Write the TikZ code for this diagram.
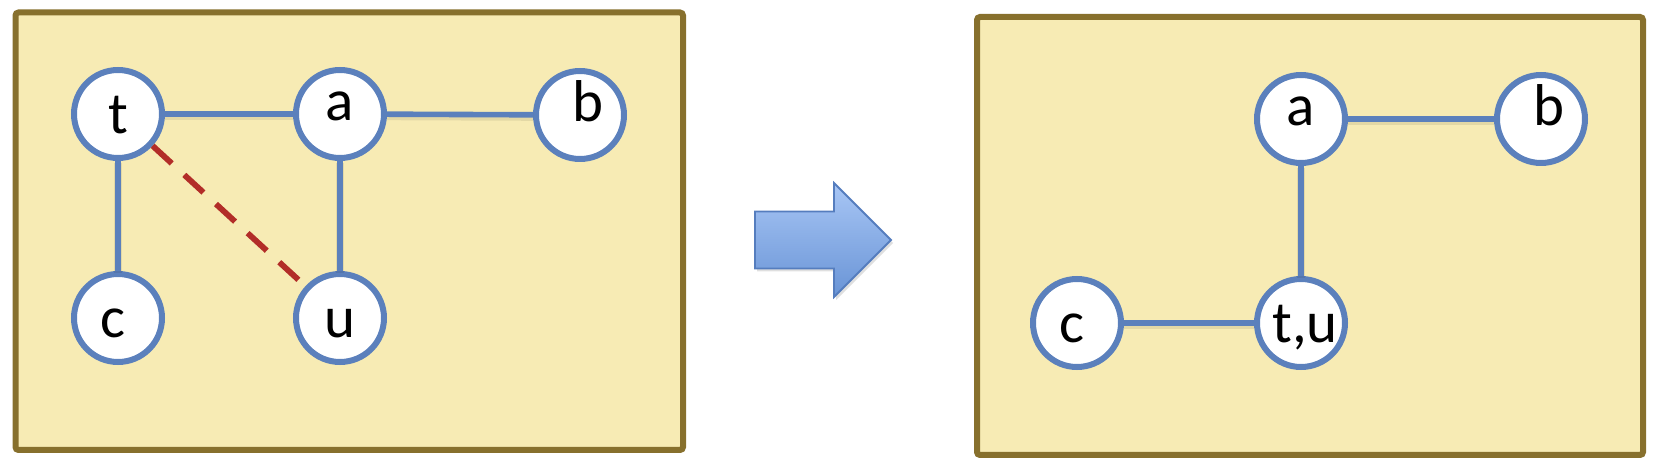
\documentclass[tikz,border=0pt]{standalone}
\usepackage{fontspec}
\setmainfont{Carlito}
\usetikzlibrary{shadows}
\definecolor{boxfill}{RGB}{247,235,180}
\definecolor{boxline}{RGB}{135,112,45}
\definecolor{nodeline}{RGB}{91,128,188}
\definecolor{dashred}{RGB}{178,45,40}
\definecolor{arrowtop}{RGB}{168,198,245}
\definecolor{arrowbot}{RGB}{105,148,214}
\definecolor{arrowline}{RGB}{85,125,190}
\begin{document}
\begin{tikzpicture}[x=0.5pt,y=-0.5pt,
  panel/.style={draw=boxline, fill=boxfill, line width=3pt, rounded corners=1.5pt},
  vert/.style={circle, draw=nodeline, fill=white, line width=3pt, minimum size=44pt, inner sep=0pt, font=\fontsize{29.5}{31}\selectfont},
  lowtext/.style={text height=20pt, text depth=0pt},
  hightext/.style={text height=7pt, text depth=0pt},
  edge/.style={draw=nodeline, line width=2.8pt, preaction={draw=black, opacity=0.08, line width=4pt, transform canvas={yshift=-1pt}}},
  merge/.style={draw=dashred, line width=2.9pt, dash pattern=on 13pt off 8.5pt},
  bigarrow/.style={draw=arrowline, line width=0.9pt, top color=arrowtop, bottom color=arrowbot, drop shadow={opacity=0.25, shadow xshift=1pt, shadow yshift=-1.5pt}}
]
\useasboundingbox (0,0) rectangle (1656,464);
% panels
\path[panel] (15.5,12.5) rectangle (683,450);
\path[panel] (977,17) rectangle (1643,455);
% left graph
\node[vert, lowtext] (t) at (118,114) {t};
\node[vert, hightext] (a) at (340,114) {a};
\node[vert, hightext] (b) at (580,115) {\hspace*{8pt}b};
\node[vert, lowtext] (c) at (118,318) {c\hspace*{5pt}};
\node[vert, lowtext] (u) at (340,318) {u};
\draw[edge] (t) -- (a);
\draw[edge] (a) -- (b);
\draw[edge] (t) -- (c);
\draw[edge] (a) -- (u);
\draw[merge] (t) -- (u);
% arrow
\path[bigarrow] (755,211.5) -- (834,211.5) -- (834,183) -- (891,240) -- (834,297) -- (834,268.5) -- (755,268.5) -- cycle;
% right graph
\node[vert, hightext] (a2) at (1301,119) {a};
\node[vert, hightext] (b2) at (1541,119) {\hspace*{8pt}b};
\node[vert, lowtext] (c2) at (1077,323) {c\hspace*{5pt}};
\node[vert, lowtext] (tu) at (1301,323) {\hspace*{4pt}t,u};
\draw[edge] (a2) -- (b2);
\draw[edge] (a2) -- (tu);
\draw[edge] (c2) -- (tu);
\end{tikzpicture}
\end{document}
